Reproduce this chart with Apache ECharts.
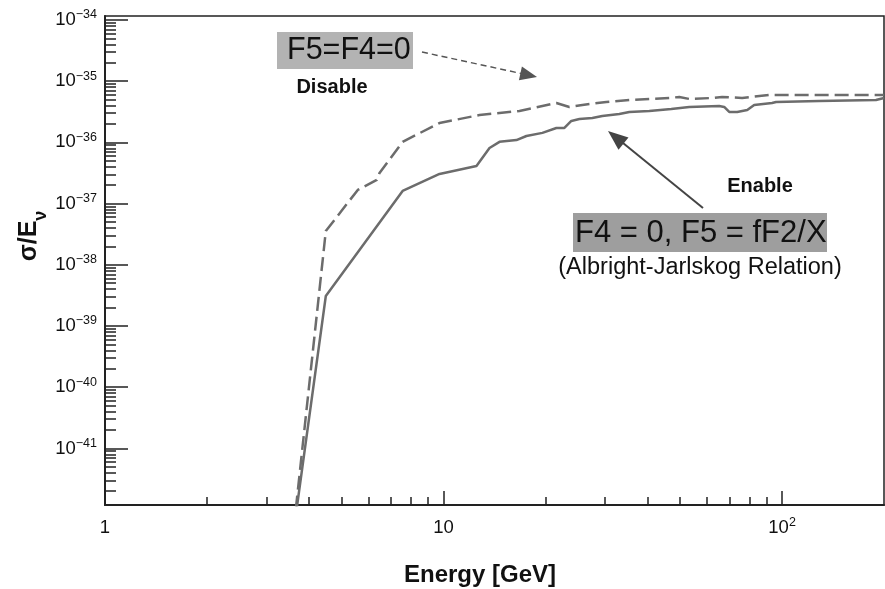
<!DOCTYPE html>
<html>
<head>
<meta charset="utf-8">
<script src="https://cdn.jsdelivr.net/npm/echarts@6/dist/echarts.min.js"></script>
<style>
  html, body { margin: 0; padding: 0; background: #fff; }
  #chart { width: 885px; height: 589px; }
</style>
</head>
<body>
<div id="chart"></div>
<script>
// sigma/E vs neutrino energy, F5=F4=0 (disable) vs Albright-Jarlskog (enable)

const energyDisable = [3.66, 4.49, 5.58, 6.35, 6.47, 7.57, 9.73, 12.77, 16.76, 21.54, 23.53, 25.7, 30.26, 35.38, 46.4, 49.7, 53.19, 62.2, 66.5, 76.2, 91.5, 200];
const sigmaDisable = [1.0e-42, 3.56e-38, 1.67e-37, 2.43e-37, 3.16e-37, 1.02e-36, 2.07e-36, 2.8e-36, 3.26e-36, 4.4e-36, 3.79e-36, 4.08e-36, 4.57e-36, 4.93e-36, 5.31e-36, 5.52e-36, 5.12e-36, 5.31e-36, 5.52e-36, 5.31e-36, 5.96e-36, 5.96e-36];

const energyEnable = [3.68, 4.49, 7.57, 9.73, 12.51, 13.67, 14.63, 16.42, 17.57, 19.59, 21.54, 22.75, 23.85, 25.19, 27.52, 29.44, 33.05, 35.38, 40.52, 47.06, 53.19, 65.2, 67.45, 69.8, 73.7, 78.9, 82.7, 93.4, 96.0, 128.6, 189.4, 200];
const sigmaEnable = [1.0e-42, 3.09e-39, 1.61e-37, 3.05e-37, 4.11e-37, 8.1e-37, 1.02e-36, 1.09e-36, 1.27e-36, 1.43e-36, 1.72e-36, 1.72e-36, 2.24e-36, 2.41e-36, 2.5e-36, 2.7e-36, 2.91e-36, 3.14e-36, 3.26e-36, 3.52e-36, 3.79e-36, 3.93e-36, 3.79e-36, 3.14e-36, 3.14e-36, 3.38e-36, 4.08e-36, 4.4e-36, 4.57e-36, 4.75e-36, 4.93e-36, 5.3e-36];

const xMajorTicks = [1, 10, 100];
const xMinorTicks = [2, 3, 4, 5, 6, 7, 8, 9, 20, 30, 40, 50, 60, 70, 80, 90];
// y axis is drawn in decades (log10 of sigma/E)
const yMajorExps = [-41, -40, -39, -38, -37, -36, -35, -34];
const yMinorMantissas = [2, 3, 4, 5, 6, 7, 8, 9];
const yMinorDecades = [-42, -41, -40, -39, -38, -37, -36, -35];

const xMin = 1, xMax = 200;
const yMin = Math.log10(1.19e-42), yMax = Math.log10(1.16e-34);

const yMinorTicks = [];
yMinorDecades.forEach(d => yMinorMantissas.forEach(m => yMinorTicks.push(d + Math.log10(m))));

const FONT = '"Liberation Sans", Arial, Helvetica, sans-serif';
const LINE_GRAY = '#6c6c6c';

function powLabel(e) {
    if (e === 0) return '1';
    if (e === 1) return '10';
    return '{b|10}{s|' + String(e).replace('-', '\u2212') + '}';
}

const labelRich = {
    b: { fontSize: 18.5, lineHeight: 20, fontFamily: FONT, color: '#111' },
    s: { fontSize: 12.5, lineHeight: 13, fontFamily: FONT, color: '#111', padding: [0, 0, 10, 0] }
};

const chart = echarts.init(document.getElementById('chart'));

chart.setOption({
    animation: false,
    grid: {
        left: 105, right: 1, top: 16, bottom: 84,
        show: true, borderColor: '#222', borderWidth: 1.5
    },
    xAxis: [{
        type: 'log', min: xMin, max: xMax, position: 'bottom',
        axisLine: { show: true, lineStyle: { color: '#222', width: 2 } },
        axisTick: { inside: true, length: 14, customValues: xMajorTicks, lineStyle: { color: '#222', width: 1.5 } },
        axisLabel: { customValues: xMajorTicks, formatter: v => powLabel(Math.round(Math.log10(v))), rich: labelRich, fontSize: 18.5, fontFamily: FONT, color: '#111', margin: 13 },
        splitLine: { show: false }
    }, {
        type: 'log', min: xMin, max: xMax, position: 'bottom',
        axisLine: { show: false },
        axisTick: { inside: true, length: 8, customValues: xMinorTicks, lineStyle: { color: '#222', width: 1.5 } },
        axisLabel: { show: false },
        splitLine: { show: false }
    }],
    yAxis: [{
        type: 'value', min: yMin, max: yMax, position: 'left',
        axisLine: { show: true, lineStyle: { color: '#222', width: 2 } },
        axisTick: { inside: true, length: 23, customValues: yMajorExps, lineStyle: { color: '#222', width: 1.5 } },
        axisLabel: { customValues: yMajorExps, formatter: v => powLabel(Math.round(v)), rich: labelRich, fontSize: 18.5, fontFamily: FONT, color: '#111', margin: 8 },
        splitLine: { show: false }
    }, {
        type: 'value', min: yMin, max: yMax, position: 'left',
        axisLine: { show: false },
        axisTick: { inside: true, length: 11, customValues: yMinorTicks, lineStyle: { color: '#222', width: 1.5 } },
        axisLabel: { show: false },
        splitLine: { show: false }
    }],
    series: [{
        name: 'Disable',
        type: 'line',
        data: energyDisable.map((e, i) => [e, Math.log10(sigmaDisable[i])]),
        showSymbol: false,
        lineStyle: { color: LINE_GRAY, width: 2.5, type: [14, 6] }
    }, {
        name: 'Enable',
        type: 'line',
        data: energyEnable.map((e, i) => [e, Math.log10(sigmaEnable[i])]),
        showSymbol: false,
        lineStyle: { color: LINE_GRAY, width: 2.5 }
    }],
    graphic: [
        // axis titles
        {
            type: 'text', x: 480, y: 575,
            style: { text: 'Energy [GeV]', font: 'bold 24px ' + FONT, fill: '#111', align: 'center', verticalAlign: 'middle' }
        },
        {
            type: 'text', x: 29, y: 236, rotation: Math.PI / 2,
            style: {
                text: '{a|\u03c3/E}{n|\u03bd}', align: 'center', verticalAlign: 'middle',
                rich: {
                    a: { fontSize: 25, fontWeight: 'bold', fontFamily: FONT, fill: '#111', lineHeight: 24, verticalAlign: 'top' },
                    n: { fontSize: 18, fontWeight: 'bold', fontFamily: FONT, fill: '#111', lineHeight: 18, padding: [15, 0, 0, 0], verticalAlign: 'top' }
                }
            }
        },
        // disable annotation
        { type: 'rect', shape: { x: 277, y: 32, width: 136, height: 37 }, style: { fill: '#b3b3b3' } },
        { type: 'text', x: 287, y: 51, style: { text: 'F5=F4=0', font: '30.5px ' + FONT, fill: '#111', align: 'left', verticalAlign: 'middle' } },
        { type: 'text', x: 332, y: 87, style: { text: 'Disable', font: 'bold 20px ' + FONT, fill: '#111', align: 'center', verticalAlign: 'middle' } },
        { type: 'line', shape: { x1: 422, y1: 52, x2: 521, y2: 73.5 }, style: { stroke: '#555', lineWidth: 1.5, lineDash: [6, 4] } },
        { type: 'polygon', shape: { points: [[537, 77], [518.9, 80.2], [521.9, 66.6]] }, style: { fill: '#555' } },
        // enable annotation
        { type: 'line', shape: { x1: 703, y1: 208, x2: 623, y2: 143 }, style: { stroke: '#444', lineWidth: 2 } },
        { type: 'polygon', shape: { points: [[608, 131], [628.5, 137.4], [618.5, 149.8]] }, style: { fill: '#444' } },
        { type: 'text', x: 760, y: 186, style: { text: 'Enable', font: 'bold 20px ' + FONT, fill: '#111', align: 'center', verticalAlign: 'middle' } },
        { type: 'rect', shape: { x: 573, y: 213, width: 254, height: 39 }, style: { fill: '#9e9e9e' } },
        { type: 'text', x: 575, y: 233.5, style: { text: 'F4 = 0, F5 = fF2/X', font: '31px ' + FONT, fill: '#111', align: 'left', verticalAlign: 'middle' } },
        { type: 'text', x: 700, y: 268, style: { text: '(Albright-Jarlskog Relation)', font: '23.5px ' + FONT, fill: '#111', align: 'center', verticalAlign: 'middle' } }
    ]
});
</script>
</body>
</html>
